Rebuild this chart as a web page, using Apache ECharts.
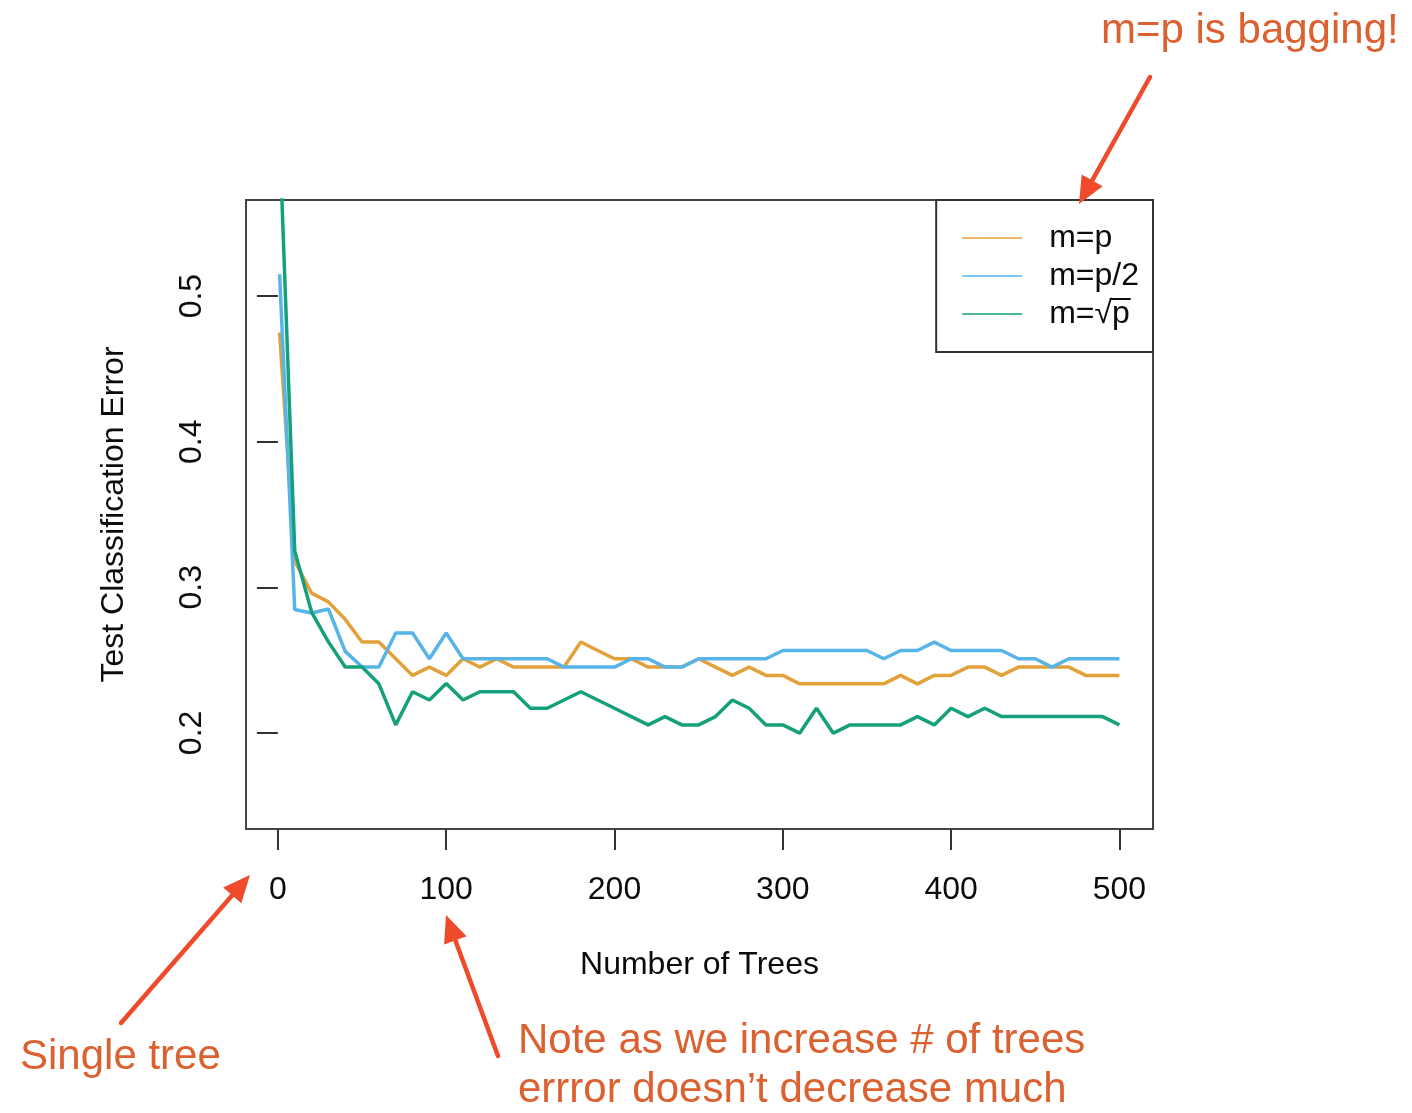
<!DOCTYPE html>
<html>
<head>
<meta charset="utf-8">
<script src="https://cdn.jsdelivr.net/npm/echarts@6/dist/echarts.min.js"></script>
<style>
  html, body { margin: 0; padding: 0; background: #ffffff; }
  #chart { width: 1412px; height: 1113px; }
</style>
</head>
<body>
<div id="chart"></div>
<script>
// Number of trees in the forest
const trees = [1, 10, 20, 30, 40, 50, 60, 70, 80, 90, 100,
  110, 120, 130, 140, 150, 160, 170, 180, 190, 200,
  210, 220, 230, 240, 250, 260, 270, 280, 290, 300,
  310, 320, 330, 340, 350, 360, 370, 380, 390, 400,
  410, 420, 430, 440, 450, 460, 470, 480, 490, 500];

// Test classification error, m = p (bagging)
const errMp = [0.475, 0.318, 0.296, 0.290, 0.278, 0.2624, 0.2624, 0.2509, 0.2395, 0.2452, 0.2395,
  0.2509, 0.2452, 0.2509, 0.2452, 0.2452, 0.2452, 0.2452, 0.2624, 0.2566, 0.2509,
  0.2509, 0.2452, 0.2452, 0.2452, 0.2509, 0.2452, 0.2395, 0.2452, 0.2395, 0.2395,
  0.2337, 0.2337, 0.2337, 0.2337, 0.2337, 0.2337, 0.2395, 0.2337, 0.2395, 0.2395,
  0.2452, 0.2452, 0.2395, 0.2452, 0.2452, 0.2452, 0.2452, 0.2395, 0.2395, 0.2395];

// Test classification error, m = p/2
const errMp2 = [0.515, 0.2847, 0.2824, 0.2851, 0.256, 0.2452, 0.2452, 0.2686, 0.2686, 0.2509, 0.2686,
  0.2509, 0.2509, 0.2509, 0.2509, 0.2509, 0.2509, 0.2452, 0.2452, 0.2452, 0.2452,
  0.2509, 0.2509, 0.2452, 0.2452, 0.2509, 0.2509, 0.2509, 0.2509, 0.2509, 0.2566,
  0.2566, 0.2566, 0.2566, 0.2566, 0.2566, 0.2509, 0.2566, 0.2566, 0.2623, 0.2566,
  0.2566, 0.2566, 0.2566, 0.2509, 0.2509, 0.2452, 0.2509, 0.2509, 0.2509, 0.2509];

// Test classification error, m = sqrt(p)
const errMsqrt = [0.61, 0.325, 0.283, 0.2625, 0.2452, 0.2452, 0.2337, 0.2055, 0.2283, 0.2226, 0.234,
  0.2226, 0.2283, 0.2283, 0.2283, 0.2169, 0.2169, 0.2226, 0.2283, 0.2226, 0.2169,
  0.2112, 0.2055, 0.2112, 0.2055, 0.2055, 0.2112, 0.2226, 0.2169, 0.2055, 0.2055,
  0.1998, 0.2169, 0.1998, 0.2055, 0.2055, 0.2055, 0.2055, 0.2112, 0.2055, 0.2169,
  0.2112, 0.2169, 0.2112, 0.2112, 0.2112, 0.2112, 0.2112, 0.2112, 0.2112, 0.2055];

const seriesNames = ['m=p', 'm=p/2', 'm=\u221Ap'];
const seriesColors = ['#E3A13A', '#56B4E9', '#14A07A'];
const xTicks = [0, 100, 200, 300, 400, 500];
const yTicks = [0.2, 0.3, 0.4, 0.5];

const FONT = '"Liberation Sans", Arial, Helvetica, sans-serif';
const INK = '#0c0c0c';
const NOTE = '#DC6130';
const ARROW = '#EF4A2B';

const chart = echarts.init(document.getElementById('chart'), null, { renderer: 'canvas' });

function pairs(ys) {
  return trees.map(function (t, i) { return [t, ys[i]]; });
}

// Straight arrow with a filled triangular head ending at (x2, y2)
function arrow(x1, y1, x2, y2) {
  const dx = x2 - x1, dy = y2 - y1;
  const len = Math.hypot(dx, dy), ux = dx / len, uy = dy / len;
  const hl = 27, hw = 12;
  const bx = x2 - ux * hl, by = y2 - uy * hl;
  return [
    { type: 'line', shape: { x1: x1, y1: y1, x2: bx + ux * 3, y2: by + uy * 3 },
      style: { stroke: ARROW, lineWidth: 4.5, lineCap: 'round' }, z: 100 },
    { type: 'polygon', shape: { points: [[x2, y2], [bx - uy * hw, by + ux * hw], [bx + uy * hw, by - ux * hw]] },
      style: { fill: ARROW }, z: 100 }
  ];
}

function note(text, x, y) {
  return { type: 'text', x: x, y: y, z: 100,
    style: { text: text, fill: NOTE, font: '42px ' + FONT, textVerticalAlign: 'middle', verticalAlign: 'middle' } };
}

// Overbar completing the square-root sign in the third legend entry
const measureCtx = document.createElement('canvas').getContext('2d');
measureCtx.font = '32px ' + FONT;
const legendTextLeft = 936 + 26 + 60 + 5 + 22;
const radicalW = measureCtx.measureText('m=\u221A').width;
const pW = measureCtx.measureText('p').width;
const barLeft = legendTextLeft + radicalW - 2;
const barY = 200 + 22 + 2 * (32 + 6) + 16 - 15;

const graphics = []
  .concat(arrow(1150, 77, 1079, 204))
  .concat(arrow(121, 1023, 250, 875))
  .concat(arrow(498, 1056, 446, 915))
  .concat([
    note('m=p is bagging!', 1101, 31),
    note('Single tree', 20, 1057),
    note('Note as we increase # of trees', 518, 1041),
    note('errror doesn\u2019t decrease much', 518, 1090),
    { type: 'line', z: 120,
      shape: { x1: barLeft, y1: barY, x2: barLeft + pW + 3, y2: barY },
      style: { stroke: INK, lineWidth: 2 } }
  ]);

const option = {
  animation: false,
  backgroundColor: '#ffffff',
  grid: {
    left: 246, top: 200, width: 907, height: 629,
    containLabel: false, outerBoundsMode: 'none',
    show: true, borderColor: '#444', borderWidth: 2, backgroundColor: 'transparent'
  },
  xAxis: {
    type: 'value', min: -18.96, max: 519.96,
    axisLine: { show: false },
    splitLine: { show: false },
    axisTick: { show: true, length: 21, lineStyle: { color: '#333', width: 2 }, customValues: xTicks },
    axisLabel: { customValues: xTicks, fontSize: 32, color: INK, margin: 45, fontFamily: FONT },
    name: 'Number of Trees', nameLocation: 'middle', nameGap: 120,
    nameTextStyle: { fontSize: 32, color: INK, fontFamily: FONT }
  },
  yAxis: {
    type: 'value', min: 0.134, max: 0.566,
    axisLine: { show: false },
    splitLine: { show: false },
    axisTick: { show: true, length: 21, lineStyle: { color: '#333', width: 2 }, customValues: yTicks },
    axisLabel: { customValues: yTicks, fontSize: 32, color: INK, margin: 38, rotate: 90, fontFamily: FONT,
      formatter: function (v) { return v.toFixed(1); } },
    name: 'Test Classification Error', nameLocation: 'middle', nameGap: 116,
    nameTextStyle: { fontSize: 32, color: INK, fontFamily: FONT }
  },
  legend: {
    orient: 'vertical', right: 259, top: 200,
    backgroundColor: '#ffffff', borderColor: '#333', borderWidth: 2, borderRadius: 0,
    padding: [22, 14, 22, 26],
    itemWidth: 60, itemHeight: 2, itemGap: 6, icon: 'rect',
    itemStyle: { opacity: 0.75 },
    textStyle: { fontSize: 32, lineHeight: 32, color: INK, fontFamily: FONT, padding: [0, 0, 0, 22] },
    data: seriesNames
  },
  series: [
    { name: seriesNames[0], type: 'line', data: pairs(errMp), color: seriesColors[0] },
    { name: seriesNames[1], type: 'line', data: pairs(errMp2), color: seriesColors[1] },
    { name: seriesNames[2], type: 'line', data: pairs(errMsqrt), color: seriesColors[2] }
  ].map(function (s) {
    s.showSymbol = false;
    s.symbol = 'none';
    s.clip = true;
    s.lineStyle = { width: 3.5, color: s.color };
    s.emphasis = { disabled: true };
    return s;
  }),
  graphic: graphics
};

chart.setOption(option);
</script>
</body>
</html>
